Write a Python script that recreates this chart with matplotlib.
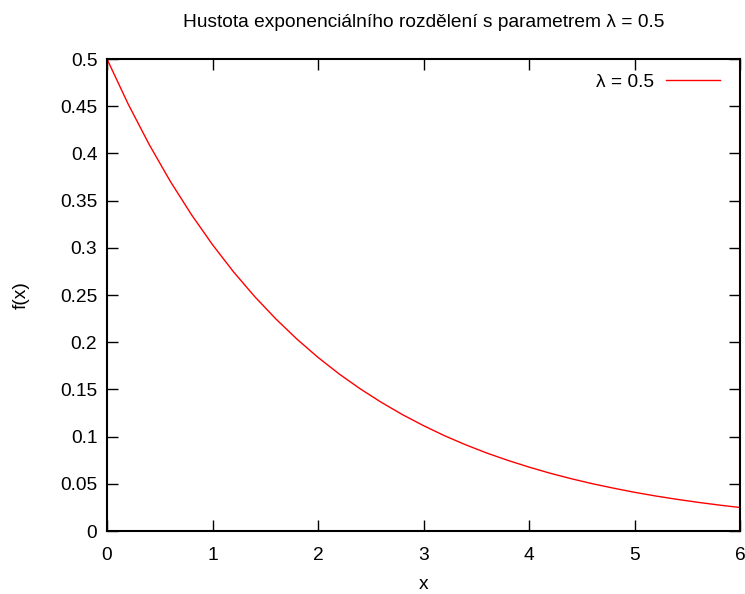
import matplotlib
matplotlib.use("Agg")
import matplotlib.pyplot as plt

# values (every 0.2 on x)
x = [0.0, 0.2, 0.4, 0.6, 0.8, 1.0, 1.2, 1.4, 1.6, 1.8, 2.0, 2.2, 2.4, 2.6, 2.8, 3.0,
     3.2, 3.4, 3.6, 3.8, 4.0, 4.2, 4.4, 4.6, 4.8, 5.0, 5.2, 5.4, 5.6, 5.8, 6.0]
fx = [0.5000, 0.4524, 0.4094, 0.3704, 0.3352, 0.3033, 0.2744, 0.2483, 0.2247,
      0.2033, 0.1839, 0.1664, 0.1506, 0.1363, 0.1233, 0.1116, 0.1009, 0.0913,
      0.0826, 0.0748, 0.0677, 0.0612, 0.0554, 0.0501, 0.0454, 0.0410, 0.0371,
      0.0336, 0.0304, 0.0275, 0.0249]

xticks = [0, 1, 2, 3, 4, 5, 6]
yticks = [0, 0.05, 0.1, 0.15, 0.2, 0.25, 0.3, 0.35, 0.4, 0.45, 0.5]
ytick_labels = ['0', '0.05', '0.1', '0.15', '0.2', '0.25', '0.3', '0.35', '0.4', '0.45', '0.5']

plt.rcParams['font.family'] = ['Liberation Sans', 'DejaVu Sans']
plt.rcParams['font.size'] = 13.8

fig = plt.figure(figsize=(7.45, 5.94), dpi=100)
ax = fig.add_axes([107/745, 1 - 531/594, (740-107)/745, (531-59)/594])

ax.plot(x, fx, color='red', linewidth=1.0, label='λ = 0.5')

ax.set_xlim(0, 6)
ax.set_ylim(0, 0.5)
ax.set_xticks(xticks)
ax.set_yticks(yticks)
ax.set_yticklabels(ytick_labels)
ax.tick_params(direction='in', length=8, width=1, top=True, right=True)
ax.tick_params(axis='x', pad=11.5)
ax.tick_params(axis='y', pad=7)
for s in ax.spines.values():
    s.set_linewidth(1.5)

ax.set_xlabel('x', labelpad=9)
ax.set_ylabel('f(x)', labelpad=22)
ax.set_title('Hustota exponenciálního rozdělení s parametrem λ = 0.5', fontsize=13.8, pad=23)

ax.legend(loc='upper right', bbox_to_anchor=(0.980, 0.985), borderaxespad=0,
          frameon=False, markerfirst=False, handlelength=2.8, handletextpad=0.62)

fig.savefig('out.png', dpi=100)
